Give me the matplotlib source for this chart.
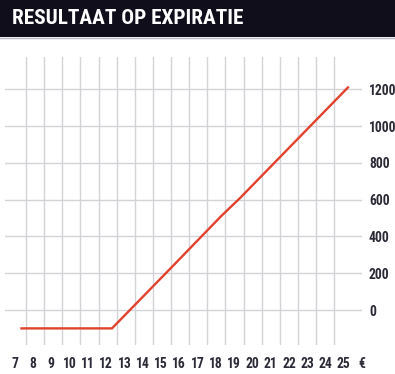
import matplotlib
matplotlib.use("Agg")
import matplotlib.pyplot as plt
from matplotlib.patches import Rectangle
from matplotlib.lines import Line2D
from matplotlib import font_manager as fm
import numpy as np

# ---- data ----
title = "RESULTAAT OP EXPIRATIE"
price_ticks = list(range(7, 26))
x_labels = [str(p) for p in price_ticks] + ["€"]
x_label_pos = price_ticks + [26]
y_ticks = [0, 200, 400, 600, 800, 1000, 1200]
y_labels = [str(v) for v in y_ticks]
payoff_x = [7.37, 12.32, 15.61, 18.27, 19.34, 25.23]
payoff_y = [-100, -100, 235, 508, 610, 1210]
grid_x = list(np.linspace(7.62, 24.48, 18))

available = {f.name for f in fm.fontManager.ttflist}


def pick(prefs):
    for p in prefs:
        if p in available:
            return [p, "DejaVu Sans"]
    return ["DejaVu Sans"]


title_font = pick(["Roboto Condensed", "Barlow Condensed", "Barlow Semi Condensed",
                   "Archivo Narrow", "Asap Condensed", "Liberation Sans Narrow"])
tick_font = pick(["Roboto Condensed", "Barlow Semi Condensed", "Barlow Condensed",
                  "Archivo Narrow", "Asap Condensed", "Liberation Sans Narrow"])
plt.rcParams["font.family"] = tick_font

W, H = 395, 374
fig = plt.figure(figsize=(W / 100, H / 100), dpi=100)
fig.patch.set_facecolor("white")

# title bar
fig.patches.append(Rectangle((0, 1 - 37 / H), 1, 37 / H, transform=fig.transFigure,
                             facecolor="#110e1b", edgecolor="none", zorder=0))
fig.lines.append(Line2D([0, 1], [1 - 37.5 / H, 1 - 37.5 / H], transform=fig.transFigure,
                        color="#b9b6c6", lw=1.0))
fig.text(12 / W, 1 - 18.5 / H, title, color="white", fontsize=15.3,
         fontweight="heavy", va="center", ha="left", family=title_font)

ax = fig.add_axes([5 / W, 29 / H, 357 / W, 288 / H])
ax.set_xlim(6.468, 25.477)
ax.set_ylim(-190.3, 1375.6)

ax.plot(payoff_x, payoff_y, color="#e2412e", lw=1.7, solid_joinstyle="miter", zorder=3)

ax.set_xticks(x_label_pos)
ax.set_xticklabels(x_labels)
ax.set_yticks(y_ticks)
ax.set_yticklabels(y_labels)

ax.grid(False)
for gx in grid_x:
    ax.axvline(gx, color="#d4d4d8", lw=1.0, zorder=1)
for gy in y_ticks:
    ax.axhline(gy, color="#d4d4d8", lw=1.0, zorder=1)

ax.tick_params(axis="x", which="both", length=0, pad=9, labelsize=9.8,
               labelcolor="#2b2a36")
ax.tick_params(axis="y", length=0, pad=5, labelsize=9.8, labelcolor="#2b2a36",
               left=False, labelleft=False, right=False, labelright=True)
for lbl in ax.get_xticklabels() + ax.get_yticklabels():
    lbl.set_fontweight("bold")
    lbl.set_family(tick_font)
for s in ax.spines.values():
    s.set_visible(False)

fig.savefig("out.png", dpi=100, facecolor="white")
